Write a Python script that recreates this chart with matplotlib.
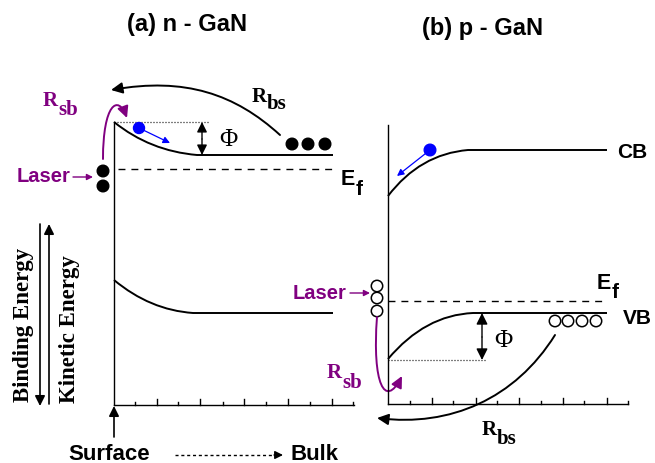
import matplotlib
matplotlib.use("Agg")
import matplotlib.pyplot as plt
from matplotlib.path import Path
from matplotlib.patches import PathPatch, FancyArrowPatch, Circle

# everything is in pixel coordinates of the 655x464 picture (y grows downwards)
PURPLE = '#800080'
BLUE = '#0000ff'
SANS = 'Liberation Sans'
SERIF = 'Liberation Serif'

# axis frames: (x of surface line, top of surface line, bottom axis y, right end)
frame_a = (114, 123, 406, 354)
frame_b = (388, 126, 405, 628)
ticks_a = [135, 157, 178, 200, 223, 244, 266, 288, 310, 332, 353]
ticks_b = [410, 432, 453, 476, 497, 519, 541, 563, 584, 607, 628]

# bands: start, bezier control, end of bend, end of flat part
cb_a = [(114, 123), (150, 152), (197, 156), (333, 156)]
vb_a = [(114, 281), (150, 311), (193, 314), (333, 314)]
cb_b = [(388, 197), (420, 155), (468, 151), (607, 151)]
vb_b = [(388, 360), (425, 316), (473, 314), (607, 314)]

# fermi levels (y, x0, x1)
ef_a = (170, 118, 333)
ef_b = (302, 388, 607)

# carriers
electrons_bulk_a = [(292, 145), (308, 145), (325, 145)]
electrons_surf_a = [(103, 172), (103, 187)]
holes_surf_b = [(377, 287), (377, 299), (377, 312)]
holes_bulk_b = [(555, 322), (568, 322), (582, 322), (596, 322)]

# recombination paths (cubic bezier control points)
rbs_a = [(280, 136), (235, 95), (185, 78), (111, 91)]
rsb_a = [(103, 160), (103, 105), (118, 95), (127, 119)]
rbs_b = [(555, 336), (515, 400), (450, 428), (377, 419)]
rsb_b = [(377, 318), (372, 385), (385, 410), (402, 377)]

fig = plt.figure(figsize=(6.55, 4.64), dpi=100)
ax = fig.add_axes([0, 0, 1, 1])
ax.set_xlim(0, 655)
ax.set_ylim(464, 0)
ax.axis('off')


def frame(f, ticks, big_first):
    x0, ytop, yb, xr = f
    ax.plot([x0, x0], [ytop, yb], color='k', lw=1.0)
    ax.plot([x0, xr], [yb, yb], color='k', lw=1.0)
    for i, t in enumerate(ticks):
        big = (i % 2 == 0) == big_first
        ax.plot([t, t], [yb, yb - (6 if big else 3)], color='k', lw=1.0)


def band(pts):
    p = Path(pts, [Path.MOVETO, Path.CURVE3, Path.CURVE3, Path.LINETO])
    ax.add_patch(PathPatch(p, fill=False, lw=1.4, color='k'))


def curved_arrow(pts, color):
    p = Path(pts, [Path.MOVETO, Path.CURVE4, Path.CURVE4, Path.CURVE4])
    ax.add_patch(FancyArrowPatch(path=p, arrowstyle='-|>,head_length=0.45,head_width=0.22',
                                 mutation_scale=15, color=color, lw=1.4))


def arrow(x0, y0, x1, y1, color='k', lw=1.0, style='-|>', ms=14):
    ax.annotate('', xy=(x1, y1), xytext=(x0, y0),
                arrowprops=dict(arrowstyle=style, color=color, lw=lw,
                                mutation_scale=ms, shrinkA=0, shrinkB=0))


def sub_label(x, y, main, sub, color, family, size, dy, subsize=None):
    t = ax.text(x, y, main, color=color, family=family, fontweight='bold',
                fontsize=size, va='baseline', ha='left')
    fig.canvas.draw()
    bb = t.get_window_extent()
    ax.text(x + bb.width, y + dy, sub, color=color, family=family,
            fontweight='bold', fontsize=subsize or size - 1, va='baseline', ha='left')


frame(frame_a, ticks_a, big_first=False)
frame(frame_b, ticks_b, big_first=False)

for b in (cb_a, vb_a, cb_b, vb_b):
    band(b)

for ef in (ef_a, ef_b):
    ax.plot([ef[1], ef[2]], [ef[0], ef[0]], color='k', lw=1.0, dashes=(5, 4.3))

# dotted reference lines and barrier heights
ax.plot([114, 208], [123, 123], color='k', lw=0.9, dashes=(0.8, 1.6))
ax.plot([388, 485], [361, 361], color='k', lw=0.9, dashes=(0.8, 1.6))
arrow(202, 140, 202, 123, ms=15)
arrow(202, 140, 202, 156, ms=15)
arrow(482, 338, 482, 314, ms=17)
arrow(482, 338, 482, 361, ms=17)
ax.text(228, 140, 'Φ', family=SERIF, fontsize=18, ha='center', va='center')
ax.text(503, 341, 'Φ', family=SERIF, fontsize=18, ha='center', va='center')

for (x, y) in electrons_bulk_a + electrons_surf_a:
    ax.add_patch(Circle((x, y), 5.8, color='k'))
for (x, y) in holes_surf_b + holes_bulk_b:
    ax.add_patch(Circle((x, y), 5.7, facecolor='white', edgecolor='k', lw=1.1))

# photo-excited electrons
ax.add_patch(Circle((139, 129), 5.5, color=BLUE, zorder=3))
arrow(139, 129, 170, 144, color=BLUE, lw=0.9, ms=10)
ax.add_patch(Circle((430, 151), 5.8, color=BLUE, zorder=3))
arrow(430, 151, 397, 177, color=BLUE, lw=0.9, ms=10)

curved_arrow(rbs_a, 'k')
curved_arrow(rsb_a, PURPLE)
curved_arrow(rbs_b, 'k')
curved_arrow(rsb_b, PURPLE)

sub_label(252, 102, 'R', 'bs', 'k', SERIF, 15, 7, 15)
sub_label(43, 106, 'R', 'sb', PURPLE, SERIF, 15, 9, 15)
sub_label(482, 435, 'R', 'bs', 'k', SERIF, 15, 9, 15)
sub_label(327, 378, 'R', 'sb', PURPLE, SERIF, 15, 10, 15)

sub_label(341, 185, 'E', 'f', 'k', SANS, 15.5, 10, 15)
sub_label(597, 289, 'E', 'f', 'k', SANS, 15.5, 9, 15)
ax.text(617, 153, 'CB', family=SANS, fontweight='bold', fontsize=15, va='center')
ax.text(623, 319, 'VB', family=SANS, fontweight='bold', fontsize=15, va='center')

# laser
ax.text(44, 182, 'Laser', color=PURPLE, family=SANS, fontweight='bold',
        fontsize=14.5, ha='center', va='baseline')
arrow(73, 178, 93, 178, color=PURPLE, lw=1.0, ms=9)
ax.text(320, 299, 'Laser', color=PURPLE, family=SANS, fontweight='bold',
        fontsize=14.5, ha='center', va='baseline')
arrow(350, 294, 370, 294, color=PURPLE, lw=1.0, ms=9)

# titles
ax.text(187, 24, '(a) n - GaN', family=SANS, fontweight='bold', fontsize=17,
        ha='center', va='center')
ax.text(483, 28, '(b) p - GaN', family=SANS, fontweight='bold', fontsize=17,
        ha='center', va='center')

# energy axes
arrow(40, 225, 40, 407, lw=1.2, ms=15)
arrow(49, 405, 49, 225, lw=1.2, ms=15)
ax.text(24, 325, 'Binding Energy', family=SERIF, fontweight='bold', fontsize=16.5,
        rotation=90, ha='center', va='center')
ax.text(70, 329, 'Kinetic Energy', family=SERIF, fontweight='bold', fontsize=16.5,
        rotation=90, ha='center', va='center')

# surface -> bulk
arrow(114, 438, 114, 407, lw=1.2, ms=15)
ax.text(109, 460, 'Surface', family=SANS, fontweight='bold', fontsize=16,
        ha='center', va='baseline')
ax.text(290, 460, 'Bulk', family=SANS, fontweight='bold', fontsize=16,
        ha='left', va='baseline')
ax.plot([175, 276], [456, 456], color='k', lw=1.0, dashes=(2.2, 2))
arrow(274, 456, 283, 456, lw=1.0, ms=12)

fig.savefig('out.png', dpi=100, facecolor='white')
